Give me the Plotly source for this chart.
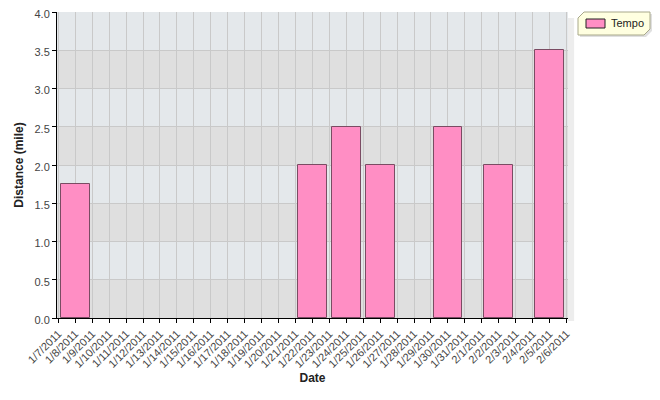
import plotly.graph_objects as go

dates = ["1/7/2011", "1/8/2011", "1/9/2011", "1/10/2011", "1/11/2011", "1/12/2011",
         "1/13/2011", "1/14/2011", "1/15/2011", "1/16/2011", "1/17/2011", "1/18/2011",
         "1/19/2011", "1/20/2011", "1/21/2011", "1/22/2011", "1/23/2011", "1/24/2011",
         "1/25/2011", "1/26/2011", "1/27/2011", "1/28/2011", "1/29/2011", "1/30/2011",
         "1/31/2011", "2/1/2011", "2/2/2011", "2/3/2011", "2/4/2011", "2/5/2011", "2/6/2011"]
run_dates = ["1/8/2011", "1/22/2011", "1/24/2011", "1/26/2011", "1/30/2011", "2/2/2011", "2/5/2011"]
tempo_miles = [1.75, 2.0, 2.5, 2.0, 2.5, 2.0, 3.5]
y_ticks = [0.0, 0.5, 1.0, 1.5, 2.0, 2.5, 3.0, 3.5, 4.0]
series_name = "Tempo"

font = "Liberation Sans, Arial, sans-serif"
bar_color = "#ff8ec4"
bar_line = "#7a4c63"

fig = go.Figure()
fig.add_trace(go.Bar(
    x=run_dates, y=tempo_miles, name=series_name, width=1.7, showlegend=False,
    marker=dict(color=bar_color, line=dict(color=bar_line, width=1)),
))

shapes = []
for i in range(len(y_ticks) - 1):
    shapes.append(dict(
        type="rect", xref="paper", yref="y", x0=0, x1=1,
        y0=y_ticks[i], y1=y_ticks[i + 1], layer="below", line=dict(width=0),
        fillcolor="#dfdfdf" if i % 2 == 0 else "#e4e8eb",
    ))
# right-side shadow of plot area
shapes.append(dict(type="rect", xref="paper", yref="paper", x0=1.0, x1=1.012, y0=-0.01, y1=0.98,
                   line=dict(width=0), fillcolor="rgba(0,0,0,0.07)", layer="below"))

# custom legend box (cut corners), in paper coordinates
px = 1 / 511.0
py = 1 / 306.0
lx0, lx1 = 1 + 10 * px, 1 + 82 * px
ly1, ly0 = 1.0, 1 - 23 * py
c = 6
shapes.append(dict(type="path", xref="paper", yref="paper",
                   path=(f"M{lx0 + (c+2)*px},{ly1 - 2*py} L{lx1 + 2*px},{ly1 - 2*py} "
                         f"L{lx1 + 2*px},{ly0 + (c-2)*py} L{lx1 - (c-2)*px},{ly0 - 2*py} "
                         f"L{lx0 + 2*px},{ly0 - 2*py} L{lx0 + 2*px},{ly1 - (c+2)*py} Z"),
                   fillcolor="rgba(0,0,0,0.12)", line=dict(width=0)))
shapes.append(dict(type="path", xref="paper", yref="paper",
                   path=(f"M{lx0 + c*px},{ly1} L{lx1},{ly1} L{lx1},{ly0 + c*py} "
                         f"L{lx1 - c*px},{ly0} L{lx0},{ly0} L{lx0},{ly1 - c*py} Z"),
                   fillcolor="#ffffe0", line=dict(color="#a8a88a", width=1)))
shapes.append(dict(type="rect", xref="paper", yref="paper",
                   x0=lx0 + 8 * px, x1=lx0 + 27 * px, y0=ly1 - 16 * py, y1=ly1 - 7 * py,
                   fillcolor=bar_color, line=dict(color="#222", width=1)))

fig.update_layout(
    width=652, height=392,
    margin=dict(l=49, r=92, t=4, b=82, autoexpand=False),
    paper_bgcolor="white", plot_bgcolor="rgba(0,0,0,0)",
    font=dict(family=font, size=11, color="#444"),
    shapes=shapes,
    showlegend=False,
    bargap=0,
    annotations=[dict(xref="paper", yref="paper", x=lx0 + 31 * px, y=ly1 - 11.5 * py,
                      xanchor="left", yanchor="middle", showarrow=False, text=series_name,
                      font=dict(family=font, size=11, color="#222"))],
)
fig.update_xaxes(
    type="category", categoryorder="array", categoryarray=dates,
    tickmode="array", tickvals=dates, ticktext=dates,
    range=[-0.08, 30.09], tickangle=-45, automargin=False,
    showgrid=True, gridcolor="#c9c9c9", gridwidth=1,
    showline=True, linecolor="#000", linewidth=1,
    ticks="outside", ticklen=4, tickcolor="#000",
    tickfont=dict(family=font, size=11, color="#444"),
    title=dict(text="<b>Date</b>", font=dict(family=font, size=12, color="#222"), standoff=4),
)
fig.update_yaxes(
    range=[0, 4.0], tickvals=y_ticks, ticktext=[f"{v:.1f}" for v in y_ticks],
    automargin=False, ticklabeloverflow="allow", ticklabelshift=2,
    showgrid=True, gridcolor="#c9c9c9", gridwidth=1,
    showline=True, linecolor="#000", linewidth=1, zeroline=False,
    ticks="outside", ticklen=4, tickcolor="#000",
    tickfont=dict(family=font, size=11, color="#444"),
    title=dict(text="<b>Distance (mile)</b>", font=dict(family=font, size=12, color="#222"), standoff=8),
)

fig.write_html("out.html")
